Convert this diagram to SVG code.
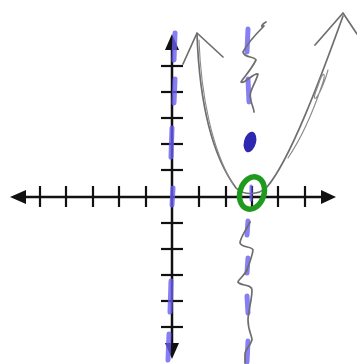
<svg xmlns="http://www.w3.org/2000/svg" width="357" height="364" viewBox="0 0 357 364">
<style>
.ax{stroke:#111;stroke-width:2.5;fill:none}
.tk{stroke:#111;stroke-width:2.2}
.ah{fill:#111}
.pu{stroke:#6a5ef0;stroke-width:5;stroke-linecap:round;fill:none;opacity:0.8}
.gr{stroke:#6e6e6e;stroke-width:1.7;fill:none;stroke-linecap:round;stroke-linejoin:round}
.gl{stroke:#8a8a8a;stroke-width:1.1;fill:none;stroke-linecap:round}
</style>
<rect width="357" height="364" fill="#fff"/>
<g id="axes">
<line class="ax" x1="20" y1="197" x2="325" y2="197"/>
<line class="ax" x1="172" y1="45" x2="172" y2="348"/>
<polygon class="ah" points="10,197 26,190 26,204"/>
<polygon class="ah" points="336,197 321,190 321,204"/>
<polygon class="ah" points="172,34 165,50 179,50"/>
<polygon class="ah" points="172,359 165,343 179,343"/>
<g class="tk">
<line x1="40" y1="186" x2="40" y2="207"/>
<line x1="66" y1="186" x2="66" y2="207"/>
<line x1="93" y1="186" x2="93" y2="207"/>
<line x1="119" y1="186" x2="119" y2="207"/>
<line x1="146" y1="186" x2="146" y2="207"/>
<line x1="199" y1="186" x2="199" y2="207"/>
<line x1="226" y1="186" x2="226" y2="207"/>
<line x1="252" y1="186" x2="252" y2="207"/>
<line x1="278" y1="186" x2="278" y2="207"/>
<line x1="305" y1="186" x2="305" y2="207"/>
<line x1="161" y1="66" x2="183" y2="66"/>
<line x1="161" y1="92" x2="183" y2="92"/>
<line x1="161" y1="118" x2="183" y2="118"/>
<line x1="161" y1="144" x2="183" y2="144"/>
<line x1="161" y1="170" x2="183" y2="170"/>
<line x1="161" y1="223" x2="183" y2="223"/>
<line x1="161" y1="249" x2="183" y2="249"/>
<line x1="161" y1="275" x2="183" y2="275"/>
<line x1="161" y1="301" x2="183" y2="301"/>
<line x1="161" y1="327" x2="183" y2="327"/>
</g>
</g>
<g id="y-axis-dashes">
<path class="pu" d="M175,33 L174,60 M175,79 L174,103 M172,128 L171,157 M173,188 L172,205 M171,281 L170,312 M169,334 L168,360"/>
</g>
<g id="parabola">
<path class="gr" d="M197,34 C199,90 208,150 236,188 C243,195 258,196 267,187 C290,160 320,80 343,16"/>
<path class="gr" d="M183,64 L197,33 L223,57"/>
<path class="gr" d="M315,45 L343,13 L357,34"/>
<path class="gl" d="M199,40 C201,95 212,150 233,184"/>
<path class="gl" d="M288,158 C300,140 312,115 322,85 C326,74 324,70 320,80 C316,92 312,100 316,98 C320,94 326,78 328,70"/>
</g>
<g id="vertical-line">
<path class="pu" d="M248,29 L247,52 M248,79 L249,102 M248,221 L247,235 M248,258 L247,273 M247,296 L248,313 M248,341 L247,362"/>
<path class="gr" d="M266,22 C262,24 260,28 264,26 C256,34 247,44 243,52 C244,58 254,56 256,60 C251,70 244,77 241,82 C244,85 254,72 258,74 C256,82 250,90 250,96 C251,104 254,108 254,112"/>
<path class="gr" d="M250,222 C246,230 240,238 240,243 C242,248 252,246 253,250 C252,258 248,266 247,270 C244,276 238,280 238,282 C240,286 252,284 252,290 C252,300 248,312 248,320 C248,330 252,336 252,340 C250,346 245,350 245,354 L245,363"/>
</g>
<g id="point">
<ellipse cx="250" cy="142" rx="6" ry="10.5" transform="rotate(15 250 142)" fill="#2e27b0"/>
</g>
<g id="vertex">
<ellipse cx="252" cy="193" rx="12" ry="16.5" transform="rotate(18 252 193)" fill="none" stroke="#1f9a1f" stroke-width="5.5"/>
<path class="pu" d="M251,186 L251,200" style="stroke-width:3"/>
</g>
</svg>
